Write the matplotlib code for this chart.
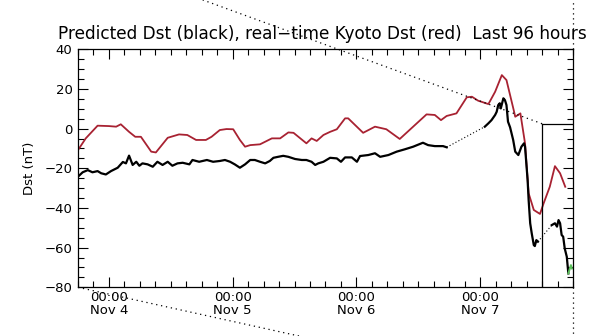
import matplotlib
matplotlib.use('Agg')
import matplotlib.pyplot as plt
from matplotlib.ticker import MultipleLocator

# time axis: hours since Nov 3 18:00 UT, 96 hour window
t_start = 0
t_end = 96

# real-time Kyoto Dst (red)
kyoto_h = [0, 1.5, 3.8, 6.0, 7.4, 8.3, 9.9, 11.1, 12.2, 14.2, 15.1, 17.4, 19.6, 21.2,
           22.9, 24.8, 25.9, 27.5, 28.8, 30.1, 31.4, 32.4, 33.4, 35.3, 37.6, 39.2, 40.8,
           41.8, 44.3, 45.3, 46.3, 47.6, 48.9, 50.2, 51.8, 52.4, 55.3, 57.6, 59.8, 62.4,
           65.0, 67.6, 69.2, 70.4, 71.5, 73.4, 75.4, 76.4, 77.6, 79.6, 80.9, 82.2, 83.1,
           84.5, 84.8, 85.8, 86.7, 87.4, 88.4, 89.6, 90.3, 91.5, 92.5, 93.5, 94.5]
kyoto_dst = [-10.8, -4.9, 1.5, 1.3, 1.0, 2.2, -1.6, -4.1, -4.1, -11.6, -12.0, -4.6, -2.9, -3.2,
             -5.7, -5.7, -4.1, -0.7, -0.2, -0.3, -5.7, -9.1, -8.3, -7.9, -4.9, -4.9, -1.9,
             -2.1, -7.4, -4.9, -6.2, -3.2, -1.6, -0.3, 5.2, 5.2, -2.1, 1.0, -0.3, -5.2,
             1.0, 7.2, 6.9, 4.3, 6.4, 7.7, 15.8, 16.1, 14.1, 12.4, 18.6, 27.0, 24.5,
             9.4, 6.0, 7.7, -7.4, -32.6, -41.0, -43.0, -37.7, -29.3, -18.9, -22.5, -29.3]

# predicted Dst (black), three solid stretches
pred1_h = [0, 0.9, 1.9, 2.8, 3.8, 4.5, 5.4, 6.4, 7.7, 8.7, 9.3, 9.9, 10.6, 11.3, 11.9, 12.5,
           13.5, 14.5, 15.4, 16.4, 17.4, 18.3, 19.3, 20.3, 21.6, 22.2, 23.5, 25.0, 26.2,
           27.5, 28.5, 29.5, 30.4, 31.4, 32.4, 33.4, 34.3, 35.3, 36.3, 37.2, 37.9, 38.8,
           39.8, 40.8, 42.1, 43.4, 44.3, 45.3, 46.0, 46.6, 47.6, 48.9, 50.2, 51.0, 51.8,
           53.1, 54.1, 54.7, 56.3, 57.6, 58.6, 60.2, 61.8, 63.4, 65.0, 66.9, 67.9, 69.2,
           70.8, 71.5]
pred1_dst = [-24.2, -22.0, -20.9, -22.0, -21.4, -22.5, -23.1, -21.4, -19.7, -16.8, -17.5,
             -13.6, -18.3, -16.7, -18.7, -17.5, -18.0, -19.2, -16.7, -18.3, -16.7, -18.7,
             -17.5, -17.2, -18.0, -15.8, -16.7, -15.8, -16.7, -16.3, -15.8, -16.7, -18.0,
             -19.7, -18.0, -15.8, -15.8, -16.7, -17.5, -16.3, -14.7, -14.2, -13.7, -14.2,
             -15.3, -15.8, -15.8, -16.7, -18.3, -17.5, -16.7, -14.7, -15.0, -16.7, -14.5,
             -14.5, -16.7, -13.8, -13.3, -12.4, -14.2, -13.3, -11.6, -10.4, -9.1, -7.1,
             -8.3, -8.8, -8.8, -9.4]
pred2_h = [78.9, 79.6, 80.2, 80.9, 81.2, 81.5, 81.8, 82.0, 82.5, 82.8, 83.1, 83.4, 83.8,
           84.4, 84.8, 85.4, 86.0, 86.5, 86.7, 86.9, 87.2, 87.4, 87.7, 88.0, 88.4, 88.6,
           88.9, 89.2]
pred2_dst = [1.0, 2.7, 4.3, 6.9, 8.5, 11.9, 12.8, 10.2, 15.3, 14.4, 11.9, 3.5, 0.7,
             -5.7, -11.6, -13.3, -9.1, -7.4, -9.1, -15.8, -25.9, -36.0, -47.7, -52.8,
             -58.7, -59.2, -56.2, -57.0]
pred3_h = [91.9, 92.5, 92.9, 93.2, 93.5, 93.8, 94.1, 94.4, 94.8, 95.1]
pred3_dst = [-48.6, -47.7, -49.4, -46.1, -47.7, -53.6, -54.5, -60.4, -64.6, -73.0]

# gaps in the prediction, bridged by a thin dotted line
gap1_h = [71.5, 78.9]
gap1_dst = [-9.4, 1.0]
gap2_h = [89.2, 91.9]
gap2_dst = [-57.0, -48.6]

# newest points (green)
new_h = [95.1, 95.3, 95.6, 95.8]
new_dst = [-73.0, -71.3, -68.8, -70.5]

# zoom box over the last 6 hours
box_h = [90, 96]
box_top = 2.5

tick_hours = [6, 30, 54, 78]
tick_labels = ['00:00\nNov 4', '00:00\nNov 5', '00:00\nNov 6', '00:00\nNov 7']

plt.rcParams['font.family'] = ['DejaVu Sans']

fig = plt.figure(figsize=(6.08, 3.36), dpi=100)
ax = fig.add_axes([0.1283, 0.1449, 0.8141, 0.7083])

ax.plot(kyoto_h, kyoto_dst, color='#a82232', lw=1.3)
for h, d in [(pred1_h, pred1_dst), (pred2_h, pred2_dst), (pred3_h, pred3_dst)]:
    ax.plot(h, d, color='black', lw=1.6)
for h, d in [(gap1_h, gap1_dst), (gap2_h, gap2_dst)]:
    ax.plot(h, d, color='black', lw=0.8, ls=(0, (1, 2)))
ax.plot(new_h, new_dst, color='#5cc05c', lw=1.4)

# box
ax.plot([box_h[0], box_h[0]], [-80, box_top], color='black', lw=0.9)
ax.plot(box_h, [box_top, box_top], color='black', lw=0.9)

# dotted guide lines running off the plot
dots = dict(color='black', lw=0.9, ls=(0, (1, 3)), clip_on=False)
ax.plot([box_h[0], 24.2, 20], [box_top, 64.9, 68.6], **dots)
ax.plot([box_h[1], box_h[1]], [40, 70], **dots)
ax.plot([box_h[1], box_h[1]], [-80, -110], **dots)
ax.plot([0, 40.5, 50], [-80, -103.2, -108.6], **dots)

ax.set_xlim(t_start, t_end)
ax.set_ylim(-80, 40)
ax.set_xticks(tick_hours)
ax.set_xticklabels(tick_labels, fontsize=9.5, linespacing=1.0)
ax.xaxis.set_minor_locator(MultipleLocator(3))
ax.set_yticks(range(-80, 41, 20))
ax.yaxis.set_minor_locator(MultipleLocator(5))
ax.tick_params(axis='y', labelsize=9.5, pad=4)
ax.tick_params(axis='x', pad=3)
ax.tick_params(which='both', direction='in', top=True, right=True, width=0.8)
ax.tick_params(which='major', length=7)
ax.tick_params(which='minor', length=4)
for s in ax.spines.values():
    s.set_linewidth(0.9)

ax.set_ylabel('Dst (nT)', fontsize=9.5, labelpad=6)
fig.text(0.531, 0.883, 'Predicted Dst (black), real\u2212time Kyoto Dst (red)  Last 96 hours',
         ha='center', va='baseline', fontsize=12.2)

fig.savefig('out.png', dpi=100)
